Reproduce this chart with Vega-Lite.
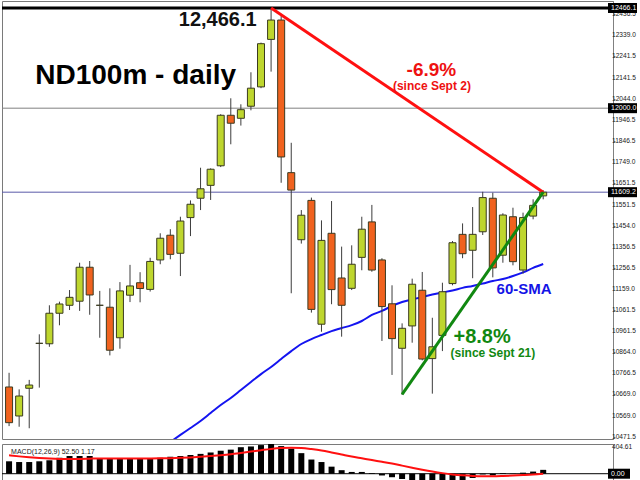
{
  "$schema": "https://vega.github.io/schema/vega-lite/v6.json",
  "padding": 0,
  "background": "white",
  "spacing": 2,
  "config": {"view": {"stroke": "#7a7a7a", "strokeWidth": 1}, "font": "Liberation Sans"},
  "datasets": {
    "one": [{}],
    "ticks": [
      {"v": 12436.5, "t": "12436.5"}, {"v": 12339.0, "t": "12339.0"}, {"v": 12241.5, "t": "12241.5"},
      {"v": 12141.5, "t": "12141.5"}, {"v": 12044.0, "t": "12044.0"}, {"v": 11946.5, "t": "11946.5"},
      {"v": 11846.5, "t": "11846.5"}, {"v": 11749.0, "t": "11749.0"}, {"v": 11651.5, "t": "11651.5"},
      {"v": 11551.5, "t": "11551.5"}, {"v": 11454.0, "t": "11454.0"}, {"v": 11356.5, "t": "11356.5"},
      {"v": 11256.5, "t": "11256.5"}, {"v": 11159.0, "t": "11159.0"}, {"v": 11061.5, "t": "11061.5"},
      {"v": 10961.5, "t": "10961.5"}, {"v": 10864.0, "t": "10864.0"}, {"v": 10766.5, "t": "10766.5"},
      {"v": 10669.0, "t": "10669.0"}, {"v": 10569.0, "t": "10569.0"}, {"v": 10471.5, "t": "10471.5"}
    ],
    "candles": [
      {"i": 1, "o": 10703, "h": 10769, "l": 10521, "c": 10537},
      {"i": 2, "o": 10568, "h": 10692, "l": 10518, "c": 10661},
      {"i": 3, "o": 10697, "h": 10736, "l": 10511, "c": 10712},
      {"i": 4, "o": 10906, "h": 10948, "l": 10700, "c": 10906},
      {"i": 5, "o": 10904, "h": 11083, "l": 10890, "c": 11046},
      {"i": 6, "o": 11046, "h": 11100, "l": 10990, "c": 11089},
      {"i": 7, "o": 11083, "h": 11154, "l": 11061, "c": 11120},
      {"i": 8, "o": 11102, "h": 11281, "l": 11057, "c": 11260},
      {"i": 9, "o": 11260, "h": 11289, "l": 11039, "c": 11131},
      {"i": 10, "o": 11083, "h": 11150, "l": 10932, "c": 11083},
      {"i": 11, "o": 11074, "h": 11162, "l": 10850, "c": 10874},
      {"i": 12, "o": 10932, "h": 11191, "l": 10881, "c": 11150},
      {"i": 13, "o": 11130, "h": 11271, "l": 11098, "c": 11173},
      {"i": 14, "o": 11188, "h": 11237, "l": 11097, "c": 11161},
      {"i": 15, "o": 11157, "h": 11304, "l": 11147, "c": 11287},
      {"i": 16, "o": 11294, "h": 11418, "l": 11274, "c": 11395},
      {"i": 17, "o": 11409, "h": 11437, "l": 11297, "c": 11320},
      {"i": 18, "o": 11325, "h": 11495, "l": 11219, "c": 11475},
      {"i": 19, "o": 11491, "h": 11571, "l": 11405, "c": 11553},
      {"i": 20, "o": 11581, "h": 11723, "l": 11526, "c": 11625},
      {"i": 21, "o": 11641, "h": 11720, "l": 11573, "c": 11716},
      {"i": 22, "o": 11732, "h": 11972, "l": 11726, "c": 11967},
      {"i": 23, "o": 11967, "h": 12046, "l": 11832, "c": 11930},
      {"i": 24, "o": 11953, "h": 12018, "l": 11919, "c": 11993},
      {"i": 25, "o": 12009, "h": 12167, "l": 11990, "c": 12093},
      {"i": 26, "o": 12099, "h": 12305, "l": 12093, "c": 12300},
      {"i": 27, "o": 12320, "h": 12466.1, "l": 12170, "c": 12410},
      {"i": 28, "o": 12410, "h": 12429, "l": 11653, "c": 11773},
      {"i": 29, "o": 11700, "h": 11839, "l": 11139, "c": 11619},
      {"i": 30, "o": 11388, "h": 11526, "l": 11370, "c": 11502},
      {"i": 31, "o": 11571, "h": 11584, "l": 11049, "c": 11064},
      {"i": 32, "o": 10995, "h": 11478, "l": 10960, "c": 11385},
      {"i": 33, "o": 11418, "h": 11568, "l": 11088, "c": 11156},
      {"i": 34, "o": 11210, "h": 11356, "l": 10937, "c": 11083},
      {"i": 35, "o": 11162, "h": 11362, "l": 11154, "c": 11274},
      {"i": 36, "o": 11306, "h": 11495, "l": 11246, "c": 11437},
      {"i": 37, "o": 11471, "h": 11550, "l": 11239, "c": 11247},
      {"i": 38, "o": 11294, "h": 11302, "l": 10917, "c": 11077},
      {"i": 39, "o": 11090, "h": 11176, "l": 10759, "c": 10928},
      {"i": 40, "o": 10883, "h": 10999, "l": 10666, "c": 10976},
      {"i": 41, "o": 10987, "h": 11207, "l": 10909, "c": 11181},
      {"i": 42, "o": 11153, "h": 11238, "l": 10827, "c": 10833},
      {"i": 43, "o": 10835, "h": 11025, "l": 10672, "c": 10890},
      {"i": 44, "o": 10943, "h": 11188, "l": 10870, "c": 11146},
      {"i": 45, "o": 11184, "h": 11382, "l": 11176, "c": 11374},
      {"i": 46, "o": 11413, "h": 11464, "l": 11302, "c": 11323},
      {"i": 47, "o": 11339, "h": 11540, "l": 11209, "c": 11413},
      {"i": 48, "o": 11425, "h": 11611, "l": 11410, "c": 11584},
      {"i": 49, "o": 11581, "h": 11607, "l": 11213, "c": 11257},
      {"i": 50, "o": 11316, "h": 11511, "l": 11281, "c": 11503},
      {"i": 51, "o": 11495, "h": 11537, "l": 11269, "c": 11286},
      {"i": 52, "o": 11247, "h": 11514, "l": 11230, "c": 11491},
      {"i": 53, "o": 11498, "h": 11576, "l": 11483, "c": 11548},
      {"i": 54, "o": 11592, "h": 11618, "l": 11576, "c": 11609.2}
    ],
    "sma": [
      {"i": 17, "v": 10447}, {"i": 18, "v": 10480}, {"i": 19, "v": 10512}, {"i": 20, "v": 10545},
      {"i": 21, "v": 10582}, {"i": 22, "v": 10619}, {"i": 23, "v": 10652}, {"i": 24, "v": 10689},
      {"i": 25, "v": 10726}, {"i": 26, "v": 10763}, {"i": 27, "v": 10796}, {"i": 28, "v": 10833},
      {"i": 29, "v": 10870}, {"i": 30, "v": 10903}, {"i": 31, "v": 10926}, {"i": 32, "v": 10945},
      {"i": 33, "v": 10963}, {"i": 34, "v": 10977}, {"i": 35, "v": 10991}, {"i": 36, "v": 11010},
      {"i": 37, "v": 11038}, {"i": 38, "v": 11057}, {"i": 39, "v": 11080}, {"i": 40, "v": 11098},
      {"i": 41, "v": 11110}, {"i": 42, "v": 11122}, {"i": 43, "v": 11133}, {"i": 44, "v": 11143},
      {"i": 45, "v": 11152}, {"i": 46, "v": 11164}, {"i": 47, "v": 11173}, {"i": 48, "v": 11184},
      {"i": 49, "v": 11196}, {"i": 50, "v": 11205}, {"i": 51, "v": 11219}, {"i": 52, "v": 11236},
      {"i": 53, "v": 11257}, {"i": 54, "v": 11275}
    ],
    "redtrend": [{"i": 27, "p": 12466.1}, {"i": 54, "p": 11609.2}],
    "greentrend": [{"i": 40, "p": 10669}, {"i": 54, "p": 11609.2}],
    "boxes": [{"v": 12466.1, "t": "12466.1"}, {"v": 12000, "t": "12000.0"}, {"v": 11609.2, "t": "11609.2"}],
    "macd": [
      {"i": 1, "m": 169, "s": 250}, {"i": 2, "m": 159, "s": 236}, {"i": 3, "m": 159, "s": 224},
      {"i": 4, "m": 169, "s": 214}, {"i": 5, "m": 183, "s": 206}, {"i": 6, "m": 217, "s": 201},
      {"i": 7, "m": 241, "s": 200}, {"i": 8, "m": 241, "s": 202}, {"i": 9, "m": 241, "s": 205},
      {"i": 10, "m": 207, "s": 206}, {"i": 11, "m": 207, "s": 206}, {"i": 12, "m": 207, "s": 206},
      {"i": 13, "m": 207, "s": 207}, {"i": 14, "m": 207, "s": 207}, {"i": 15, "m": 207, "s": 208},
      {"i": 16, "m": 217, "s": 209}, {"i": 17, "m": 231, "s": 212}, {"i": 18, "m": 241, "s": 216},
      {"i": 19, "m": 255, "s": 222}, {"i": 20, "m": 270, "s": 230}, {"i": 21, "m": 289, "s": 240},
      {"i": 22, "m": 313, "s": 252}, {"i": 23, "m": 328, "s": 266}, {"i": 24, "m": 361, "s": 283},
      {"i": 25, "m": 371, "s": 301}, {"i": 26, "m": 390, "s": 320}, {"i": 27, "m": 404.61, "s": 338},
      {"i": 28, "m": 376, "s": 350}, {"i": 29, "m": 342, "s": 355}, {"i": 30, "m": 280, "s": 350},
      {"i": 31, "m": 193, "s": 335}, {"i": 32, "m": 159, "s": 316}, {"i": 33, "m": 96, "s": 290},
      {"i": 34, "m": 48, "s": 262}, {"i": 35, "m": 24, "s": 234}, {"i": 36, "m": 24, "s": 210},
      {"i": 37, "m": 10, "s": 186}, {"i": 38, "m": -24, "s": 163}, {"i": 39, "m": -48, "s": 139},
      {"i": 40, "m": -72, "s": 110}, {"i": 41, "m": -96, "s": 82}, {"i": 42, "m": -120, "s": 55},
      {"i": 43, "m": -130, "s": 30}, {"i": 44, "m": -130, "s": 8}, {"i": 45, "m": -106, "s": -10},
      {"i": 46, "m": -92, "s": -22}, {"i": 47, "m": -58, "s": -30}, {"i": 48, "m": -10, "s": -33},
      {"i": 49, "m": -24, "s": -33}, {"i": 50, "m": 10, "s": -30}, {"i": 51, "m": 3, "s": -25},
      {"i": 52, "m": 14, "s": -18}, {"i": 53, "m": 29, "s": -10}, {"i": 54, "m": 52.5, "s": 1.17}
    ],
    "macdticks": [{"v": 404.61, "t": "404.61"}, {"v": -140.2, "t": "-140.2"}]
  },
  "vconcat": [
    {
      "width": 611,
      "height": 438,
      "layer": [
        {
          "data": {"name": "ticks"},
          "mark": {"type": "text", "fontSize": 6.6, "color": "#202020", "align": "left", "baseline": "middle", "dx": 4},
          "encoding": {
            "x": {"datum": 60.43, "type": "quantitative", "scale": {"domain": [0.795, 60.43], "nice": false, "zero": false}, "axis": null},
            "y": {"field": "v", "type": "quantitative", "scale": {"domain": [10461.0, 12498.6], "nice": false, "zero": false},
              "axis": {"orient": "right", "title": null, "grid": false, "labels": false,
                "values": [12436.5, 12339.0, 12241.5, 12141.5, 12044.0, 11946.5, 11846.5, 11749.0, 11651.5, 11551.5, 11454.0, 11356.5, 11256.5, 11159.0, 11061.5, 10961.5, 10864.0, 10766.5, 10669.0, 10569.0, 10471.5],
                "tickSize": 2, "tickColor": "#808080", "domainColor": "#808080"}},
            "text": {"field": "t"}
          }
        },
        {"data": {"name": "one"}, "mark": {"type": "rule", "color": "#000000", "strokeWidth": 3}, "encoding": {"y": {"datum": 12466.1, "type": "quantitative"}}},
        {"data": {"name": "one"}, "mark": {"type": "rule", "color": "#808080", "strokeWidth": 1}, "encoding": {"y": {"datum": 12000, "type": "quantitative"}}},
        {"data": {"name": "one"}, "mark": {"type": "rule", "color": "#5a5aa8", "strokeWidth": 1}, "encoding": {"y": {"datum": 11609.2, "type": "quantitative"}}},
        {
          "data": {"name": "sma"},
          "mark": {"type": "line", "color": "#1414f0", "strokeWidth": 2, "clip": true, "interpolate": "monotone"},
          "encoding": {"x": {"field": "i", "type": "quantitative"}, "y": {"field": "v", "type": "quantitative"}}
        },
        {
          "data": {"name": "candles"},
          "mark": {"type": "rule", "strokeWidth": 1, "color": "#3c3c3c", "clip": true},
          "encoding": {"x": {"field": "i", "type": "quantitative"}, "y": {"field": "l", "type": "quantitative"}, "y2": {"field": "h"}}
        },
        {
          "data": {"name": "candles"},
          "mark": {"type": "bar", "size": 7, "strokeWidth": 1, "stroke": "#3a3a20", "clip": true},
          "encoding": {
            "x": {"field": "i", "type": "quantitative"},
            "y": {"field": "o", "type": "quantitative"},
            "y2": {"field": "c"},
            "fill": {"condition": {"test": "datum.c >= datum.o", "value": "#bed62e"}, "value": "#f0621e"}
          }
        },
        {
          "data": {"name": "redtrend"},
          "mark": {"type": "line", "color": "#ff1010", "strokeWidth": 3},
          "encoding": {"x": {"field": "i", "type": "quantitative"}, "y": {"field": "p", "type": "quantitative"}}
        },
        {
          "data": {"name": "greentrend"},
          "mark": {"type": "line", "color": "#118811", "strokeWidth": 3},
          "encoding": {"x": {"field": "i", "type": "quantitative"}, "y": {"field": "p", "type": "quantitative"}}
        },
        {"data": {"name": "one"}, "mark": {"type": "text", "text": "12,466.1", "fontSize": 20, "fontWeight": "bold", "color": "#111111", "align": "center", "baseline": "middle"},
          "encoding": {"x": {"datum": 21.7, "type": "quantitative"}, "y": {"datum": 12410, "type": "quantitative"}}},
        {"data": {"name": "one"}, "mark": {"type": "text", "text": "ND100m - daily", "fontSize": 28, "fontWeight": "bold", "color": "#000000", "align": "left", "baseline": "alphabetic"},
          "encoding": {"x": {"datum": 3.6, "type": "quantitative"}, "y": {"datum": 12111, "type": "quantitative"}}},
        {"data": {"name": "one"}, "mark": {"type": "text", "text": "-6.9%", "fontSize": 19, "fontWeight": "bold", "color": "#ee1111", "align": "center", "baseline": "alphabetic"},
          "encoding": {"x": {"datum": 42.91, "type": "quantitative"}, "y": {"datum": 12149, "type": "quantitative"}}},
        {"data": {"name": "one"}, "mark": {"type": "text", "text": "(since Sept 2)", "fontSize": 12, "fontWeight": "bold", "color": "#ee1111", "align": "center", "baseline": "middle"},
          "encoding": {"x": {"datum": 42.96, "type": "quantitative"}, "y": {"datum": 12104, "type": "quantitative"}}},
        {"data": {"name": "one"}, "mark": {"type": "text", "text": "+8.8%", "fontSize": 20, "fontWeight": "bold", "color": "#118811", "align": "center", "baseline": "alphabetic"},
          "encoding": {"x": {"datum": 47.94, "type": "quantitative"}, "y": {"datum": 10908, "type": "quantitative"}}},
        {"data": {"name": "one"}, "mark": {"type": "text", "text": "(since Sept 21)", "fontSize": 12, "fontWeight": "bold", "color": "#118811", "align": "center", "baseline": "middle"},
          "encoding": {"x": {"datum": 49.01, "type": "quantitative"}, "y": {"datum": 10861, "type": "quantitative"}}},
        {"data": {"name": "one"}, "mark": {"type": "text", "text": "60-SMA", "fontSize": 15, "fontWeight": "bold", "color": "#1414e6", "align": "center", "baseline": "middle"},
          "encoding": {"x": {"datum": 52.1, "type": "quantitative"}, "y": {"datum": 11159, "type": "quantitative"}}},
        {
          "data": {"name": "boxes"},
          "mark": {"type": "point", "shape": "M0,-0.5H2.9V0.5H0Z", "size": 400, "filled": true, "color": "#000000", "opacity": 1, "strokeWidth": 0},
          "encoding": {"x": {"datum": 60.43, "type": "quantitative"}, "y": {"field": "v", "type": "quantitative"}}
        },
        {
          "data": {"name": "boxes"},
          "mark": {"type": "text", "fontSize": 7, "color": "#ffffff", "align": "left", "baseline": "middle", "dx": 3},
          "encoding": {"x": {"datum": 60.43, "type": "quantitative"}, "y": {"field": "v", "type": "quantitative"}, "text": {"field": "t"}}
        }
      ]
    },
    {
      "width": 611,
      "height": 40,
      "layer": [
        {
          "data": {"name": "macd"},
          "mark": {"type": "bar", "size": 6, "color": "#000000", "clip": true},
          "encoding": {
            "x": {"field": "i", "type": "quantitative", "scale": {"domain": [0.795, 60.43], "nice": false, "zero": false}, "axis": null},
            "y": {"field": "m", "type": "quantitative", "scale": {"domain": [-140.2, 404.61], "nice": false, "zero": false},
              "axis": {"orient": "right", "title": null, "grid": false, "labels": false, "ticks": false, "domainColor": "#808080"}},
            "y2": {"datum": 0}
          }
        },
        {"data": {"name": "one"}, "mark": {"type": "rule", "color": "#000000", "strokeWidth": 1}, "encoding": {"y": {"datum": 0, "type": "quantitative"}}},
        {
          "data": {"name": "macd"},
          "mark": {"type": "line", "color": "#ff1010", "strokeWidth": 2, "interpolate": "monotone", "clip": true},
          "encoding": {"x": {"field": "i", "type": "quantitative"}, "y": {"field": "s", "type": "quantitative"}}
        },
        {"data": {"name": "one"}, "mark": {"type": "text", "text": "MACD(12,26,9) 52.50 1.17", "fontSize": 7, "color": "#202020", "align": "left", "baseline": "middle"},
          "encoding": {"x": {"datum": 1.2, "type": "quantitative"}, "y": {"datum": 295, "type": "quantitative"}}},
        {"data": {"name": "macdticks"}, "mark": {"type": "text", "fontSize": 6.6, "color": "#202020", "align": "left", "baseline": "top", "dx": 4},
          "encoding": {"x": {"datum": 60.43, "type": "quantitative"}, "y": {"field": "v", "type": "quantitative"}, "text": {"field": "t"}}},
        {"data": {"name": "one"}, "mark": {"type": "point", "shape": "M0,-0.5H2.2V0.5H0Z", "size": 400, "filled": true, "color": "#000000", "opacity": 1, "strokeWidth": 0},
          "encoding": {"x": {"datum": 60.43, "type": "quantitative"}, "y": {"datum": 0, "type": "quantitative"}}},
        {"data": {"name": "one"}, "mark": {"type": "text", "text": "0.00", "fontSize": 7, "color": "#ffffff", "align": "left", "baseline": "middle", "dx": 3},
          "encoding": {"x": {"datum": 60.43, "type": "quantitative"}, "y": {"datum": 0, "type": "quantitative"}}}
      ]
    }
  ]
}
